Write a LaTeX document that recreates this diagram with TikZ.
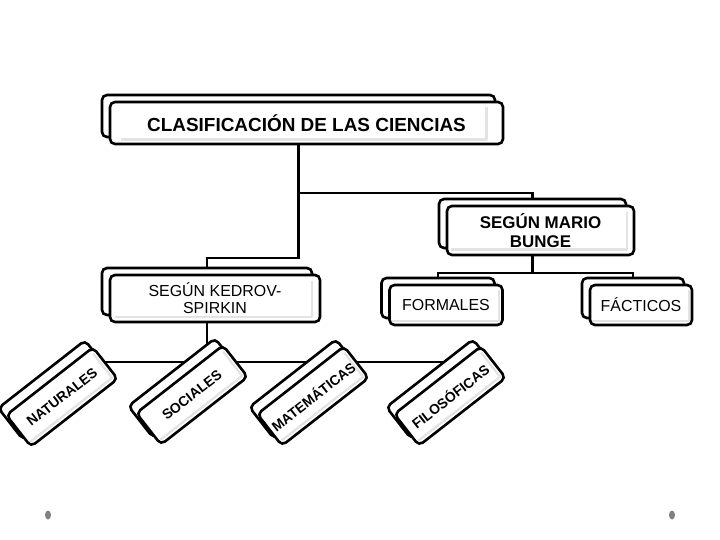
\documentclass[tikz,border=0pt]{standalone}
\usepackage{fontspec}
\setmainfont{Liberation Sans}
\usetikzlibrary{shadows,backgrounds,calc}
\tikzset{
box/.style={draw, fill=white, line width=2.6bp, rounded corners=5bp, align=center, inner sep=2bp,
            copy shadow={shadow xshift=-8bp, shadow yshift=7bp}},
tagbox/.style={box, rotate=38, minimum width=110bp, minimum height=40bp,
            font=\fontsize{14}{16}\selectfont\bfseries},
link/.style={line width=2.6bp},
glint/.style={gray!22, line width=2.2bp, line join=round},
}

\begin{document}
\begin{tikzpicture}[x=1bp,y=-1bp]
		\useasboundingbox (0,0) rectangle (720,540);
		\node[box, minimum width=393bp, minimum height=42bp, font=\fontsize{19}{21}\selectfont\bfseries] (ciencias) at (306.5,123) {CLASIFICACIÓN DE LAS CIENCIAS};
		\node[box, minimum width=187bp, minimum height=49bp, font=\fontsize{17}{19}\selectfont\bfseries] (bunge) at (540.5,230.5) {SEGÚN MARIO\\BUNGE};
		\node[box, minimum width=210bp, minimum height=47bp, font=\fontsize{16}{17}\selectfont] (kedrov) at (215,298.5) {SEGÚN KEDROV-\\SPIRKIN};
		\node[box, minimum width=113bp, minimum height=40bp, font=\fontsize{16}{17}\selectfont] (formales) at (446,305) {FORMALES};
		\node[box, minimum width=102bp, minimum height=40bp, font=\fontsize{16}{17}\selectfont] (facticos) at (641,305) {FÁCTICOS};
		\node[tagbox] (naturales) at (62,397) {NATURALES};
		\node[tagbox] (sociales) at (192,395) {SOCIALES};
		\node[tagbox] (matematicas) at (313,396) {MATEMÁTICAS};
		\node[tagbox] (filosoficas) at (450,396) {FILOSÓFICAS};
		\foreach \n in {ciencias,bunge,kedrov,formales,facticos,naturales,sociales,matematicas,filosoficas}{
			\coordinate (g1) at ($(\n.south west)!0.13!(\n.north west)$);
			\coordinate (g2) at ($(\n.south east)!0.13!(\n.north east)$);
			\coordinate (g3) at ($(\n.north east)!0.15!(\n.south east)$);
			\coordinate (g4) at ($(\n.north west)!0.15!(\n.south west)$);
			\draw[glint] ($(g1)!0.03!(g2)$) to ($(g2)!0.045!(g1)$) to ($(g3)!0.045!(g4)$);
		}
		\coordinate (cb) at ([xshift=-8bp]ciencias.center);
		\coordinate (bb) at ([xshift=-8bp]bunge.center);
		\coordinate (kb) at ([xshift=-8bp]kedrov.center);
		\coordinate (fb) at ([xshift=-8bp]formales.center);
		\coordinate (tb) at ([xshift=-8bp]facticos.center);
		\coordinate (k) at (cb |- 0,258);
		\coordinate (b) at (cb |- 0,193);
		\coordinate (f) at (bb |- 0,273);
		\coordinate (s) at (kb |- 0,362);
		\begin{pgfonlayer}{background}
			\draw[link] (cb) to (k) -| (kb);
			\draw[link] (b) -| (bb);
			\draw[link] (bb) to (f);
			\draw[link] (fb) |- (f) -| (tb);
			\draw[link] (kb) to (s);
			\draw[link] (naturales.center |- s) to (filosoficas.center |- s);
		\end{pgfonlayer}
		\fill[gray] (48,515) ellipse [x radius=3bp, y radius=4.5bp];
		\fill[gray] (672,515) ellipse [x radius=3bp, y radius=4.5bp];
\end{tikzpicture}
\end{document}
